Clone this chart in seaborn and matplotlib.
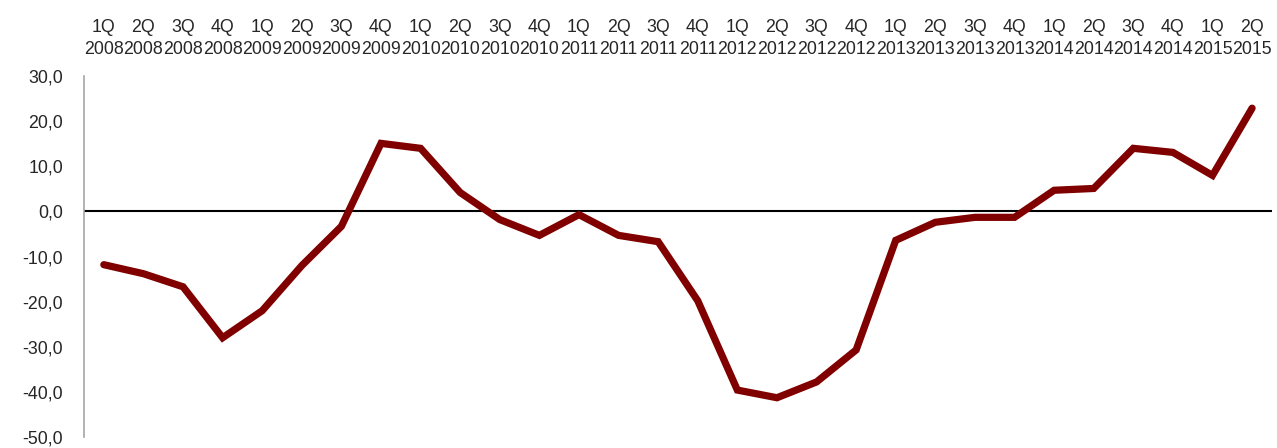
import matplotlib
matplotlib.use("Agg")
import matplotlib.pyplot as plt
import seaborn as sns
import pandas as pd

quarters = ["1Q", "2Q", "3Q", "4Q"] * 7 + ["1Q", "2Q"]
years = [str(y) for y in range(2008, 2015) for _ in range(4)] + ["2015", "2015"]
values = [-11.8, -13.8, -16.7, -28.0, -22.0, -12.0, -3.3, 15.1, 14.0, 4.2,
          -1.8, -5.3, -0.7, -5.3, -6.7, -19.8, -39.6, -41.3, -37.8, -30.7,
          -6.4, -2.4, -1.3, -1.3, 4.7, 5.1, 14.0, 13.1, 8.0, 22.9]
y_ticks = [30, 20, 10, 0, -10, -20, -30, -40, -50]

labels = [f"{q}\n{y}" for q, y in zip(quarters, years)]
df = pd.DataFrame({"period": labels, "value": values})
df["pos"] = range(len(df))

sns.set_theme(style="white")
plt.rcParams["font.family"] = ["Liberation Sans", "DejaVu Sans"]

fig = plt.figure(figsize=(12.77, 4.48), dpi=100)
ax = fig.add_axes([0.0658, 0.0246, 0.9302, 0.8054])

ax.axhline(0, color="black", linewidth=1.5, zorder=1)
sns.lineplot(data=df, x="pos", y="value", color="#800000", linewidth=5.2,
             ax=ax, zorder=3, solid_capstyle="round", solid_joinstyle="miter")

ax.set_xlim(-0.5, len(df) - 0.5)
ax.set_ylim(-50, 30)
ax.set_xticks(df["pos"])
ax.set_xticklabels(df["period"], fontsize=12.8, linespacing=1.4)
ax.xaxis.tick_top()
ax.set_yticks(y_ticks)
ax.set_yticklabels([f"{v:.1f}".replace(".", ",") for v in y_ticks], fontsize=12.8)
ax.tick_params(axis="y", length=0, pad=15)
ax.tick_params(axis="x", length=0, pad=13)
ax.set_xlabel("")
ax.set_ylabel("")

for s in ["top", "right", "bottom"]:
    ax.spines[s].set_visible(False)
ax.spines["left"].set_color("#a6a6a6")
ax.spines["left"].set_linewidth(1.2)

fig.savefig("out.png", dpi=100)
